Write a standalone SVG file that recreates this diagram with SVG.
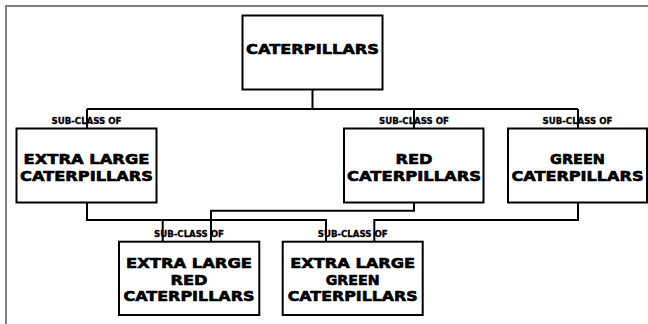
<svg xmlns="http://www.w3.org/2000/svg" width="648" height="324" viewBox="0 0 648 324">
<style>
.box{fill:#fff;stroke:#000;stroke-width:2}
.t{font-family:"DejaVu Sans",sans-serif;font-weight:bold;font-size:14px;text-anchor:middle;fill:#000;stroke:#000;stroke-width:0.6}
.lbl{font-family:"DejaVu Sans",sans-serif;font-weight:bold;font-size:8.5px;text-anchor:middle;fill:#000;stroke:#000;stroke-width:0.3}
.c{fill:none;stroke:#000;stroke-width:2}
</style>
<rect width="648" height="324" fill="#fff"/>
<path d="M6,324 V6 H648" fill="none" stroke="#808080" stroke-width="2"/>
<g id="connectors">
<path class="c" d="M312.5,89 V109 M87,109 H578 M87,109 V128 M414,109 V128 M578,109 V128"/>
<path class="c" d="M87,202 V220 H326 V242 M162.7,220 V242"/>
<path class="c" d="M414,202 V210.7 H211 V242"/>
<path class="c" d="M578,202 V220 H374.3 V242"/>
<text class="lbl" x="86.5" y="124.3" textLength="70" lengthAdjust="spacingAndGlyphs">SUB-CLASS OF</text>
<text class="lbl" x="414" y="124.3" textLength="70" lengthAdjust="spacingAndGlyphs">SUB-CLASS OF</text>
<text class="lbl" x="577.5" y="124.3" textLength="70" lengthAdjust="spacingAndGlyphs">SUB-CLASS OF</text>
<text class="lbl" x="189" y="236.7" textLength="70" lengthAdjust="spacingAndGlyphs">SUB-CLASS OF</text>
<text class="lbl" x="352.7" y="236.7" textLength="70" lengthAdjust="spacingAndGlyphs">SUB-CLASS OF</text>
</g>
<g id="caterpillars">
<rect class="box" x="242.5" y="15.5" width="140" height="74"/>
<text class="t" x="312.5" y="54" textLength="133" lengthAdjust="spacingAndGlyphs">CATERPILLARS</text>
</g>
<g id="extra-large">
<rect class="box" x="16.5" y="128.5" width="140" height="74"/>
<text class="t" x="86.5" y="164" textLength="126" lengthAdjust="spacingAndGlyphs">EXTRA LARGE</text>
<text class="t" x="86.5" y="180.5" textLength="133" lengthAdjust="spacingAndGlyphs">CATERPILLARS</text>
</g>
<g id="red">
<rect class="box" x="344" y="128.5" width="139.5" height="74"/>
<text class="t" x="414" y="164" textLength="37" lengthAdjust="spacingAndGlyphs">RED</text>
<text class="t" x="414" y="180.5" textLength="134" lengthAdjust="spacingAndGlyphs">CATERPILLARS</text>
</g>
<g id="green">
<rect class="box" x="508" y="128.5" width="139" height="74"/>
<text class="t" x="577.5" y="164" textLength="55" lengthAdjust="spacingAndGlyphs">GREEN</text>
<text class="t" x="577.5" y="180.5" textLength="132" lengthAdjust="spacingAndGlyphs">CATERPILLARS</text>
</g>
<g id="extra-large-red">
<rect class="box" x="119" y="241.7" width="140.3" height="73.3"/>
<text class="t" x="189" y="267.5" textLength="126" lengthAdjust="spacingAndGlyphs">EXTRA LARGE</text>
<text class="t" x="189" y="284.5" textLength="37" lengthAdjust="spacingAndGlyphs">RED</text>
<text class="t" x="189" y="301" textLength="131" lengthAdjust="spacingAndGlyphs">CATERPILLARS</text>
</g>
<g id="extra-large-green">
<rect class="box" x="282.7" y="241.7" width="140" height="73.3"/>
<text class="t" x="352.7" y="267.5" textLength="125" lengthAdjust="spacingAndGlyphs">EXTRA LARGE</text>
<text class="t" x="352.7" y="284.5" textLength="54" lengthAdjust="spacingAndGlyphs">GREEN</text>
<text class="t" x="352.7" y="301" textLength="130" lengthAdjust="spacingAndGlyphs">CATERPILLARS</text>
</g>
</svg>
